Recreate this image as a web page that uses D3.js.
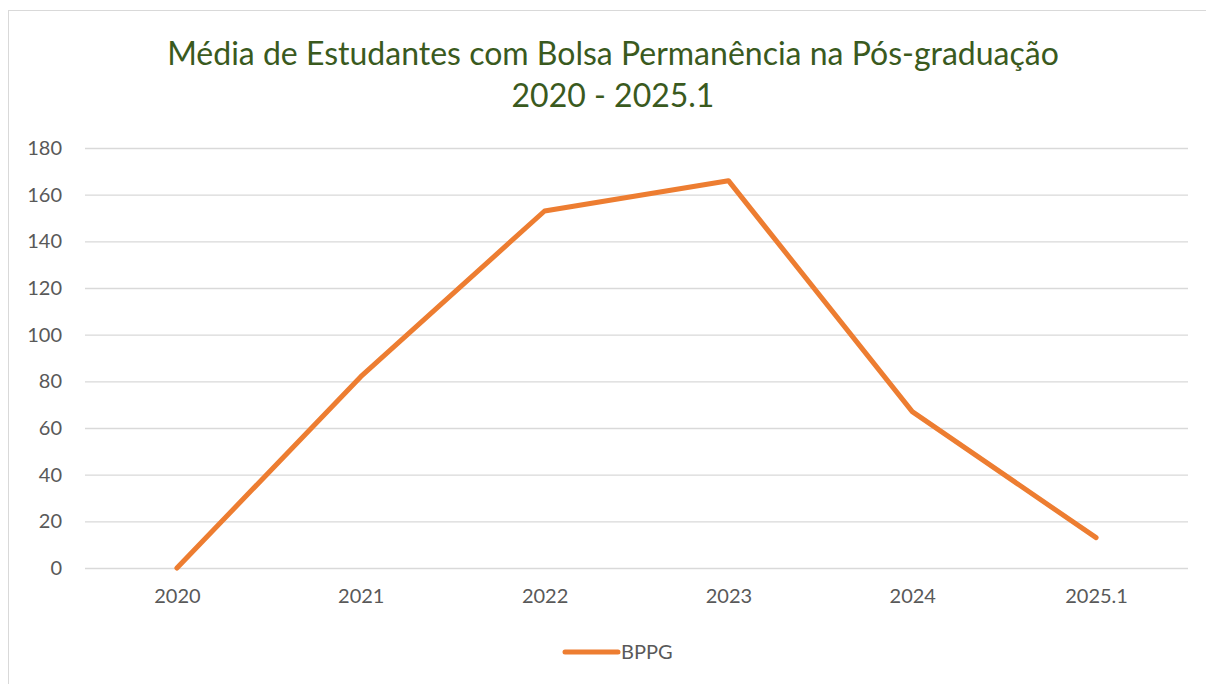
<!DOCTYPE html>
<html>
<head>
<meta charset="utf-8">
<script src="https://cdn.jsdelivr.net/npm/d3@7"></script>
<style>
  html, body { margin: 0; padding: 0; background: #fff; }
  svg { display: block; font-family: Lato, "Open Sans", sans-serif; }
</style>
</head>
<body>
<svg id="chart" width="1206" height="684"></svg>
<script>
// data
var years = ["2020", "2021", "2022", "2023", "2024", "2025.1"];
var bppg = [0, 82, 153, 166, 67, 13];
var yTicks = [0, 20, 40, 60, 80, 100, 120, 140, 160, 180];
var titleLines = ["Média de Estudantes com Bolsa Permanência na Pós-graduação", "2020 - 2025.1"];
var seriesName = "BPPG";

var svg = d3.select("#chart");

// outer chart border
svg.append("rect")
  .attr("x", 8.5).attr("y", 10.5)
  .attr("width", 1206).attr("height", 700)
  .attr("fill", "#fff")
  .attr("stroke", "#d9d9d9");

// plot area (don't use "top", it clashes with window.top)
var plotLeft = 85, plotRight = 1188, plotTop = 148, plotBottom = 568;

var x = d3.scalePoint()
  .domain(years)
  .range([plotLeft, plotRight])
  .padding(0.5);

var y = d3.scaleLinear()
  .domain([0, 180])
  .range([plotBottom, plotTop]);

// title
svg.append("g").selectAll("text")
  .data(titleLines)
  .enter()
  .append("text")
  .attr("x", 613)
  .attr("y", function(d, i) { return 65 + i * 42; })
  .attr("text-anchor", "middle")
  .attr("fill", "#3a5a1e")
  .style("font-size", "32px")
  .text(function(d) { return d; });

// gridlines + y labels
var yAxis = svg.append("g")
  .attr("transform", "translate(" + plotLeft + ",0)")
  .call(d3.axisLeft(y).tickValues(yTicks).tickSize(-(plotRight - plotLeft)).tickPadding(23));
yAxis.select(".domain").remove();
yAxis.selectAll(".tick line").attr("stroke", "#d9d9d9").attr("stroke-width", 1.3);
yAxis.selectAll(".tick text")
  .attr("fill", "#595959")
  .style("font-size", "20px")
  .style("font-family", "Lato, 'Open Sans', sans-serif");

// x labels
var xAxis = svg.append("g")
  .attr("transform", "translate(0," + plotBottom + ")")
  .call(d3.axisBottom(x).tickSize(0).tickPadding(21));
xAxis.select(".domain").remove();
xAxis.selectAll(".tick text")
  .attr("fill", "#595959")
  .style("font-size", "20px")
  .style("font-family", "Lato, 'Open Sans', sans-serif");

// the line
var line = d3.line()
  .x(function(d, i) { return x(years[i]); })
  .y(function(d) { return y(d); });

svg.append("path")
  .datum(bppg)
  .attr("fill", "none")
  .attr("stroke", "#ED7D31")
  .attr("stroke-width", 5)
  .attr("stroke-linejoin", "round")
  .attr("stroke-linecap", "round")
  .attr("d", line);

// legend
var legend = svg.append("g").attr("transform", "translate(563,652)");
legend.append("line")
  .attr("x1", 2).attr("x2", 55)
  .attr("y1", 0).attr("y2", 0)
  .attr("stroke", "#ED7D31")
  .attr("stroke-width", 5)
  .attr("stroke-linecap", "round");
legend.append("text")
  .attr("x", 58).attr("y", 7)
  .attr("fill", "#595959")
  .style("font-size", "20px")
  .text(seriesName);
</script>
</body>
</html>
